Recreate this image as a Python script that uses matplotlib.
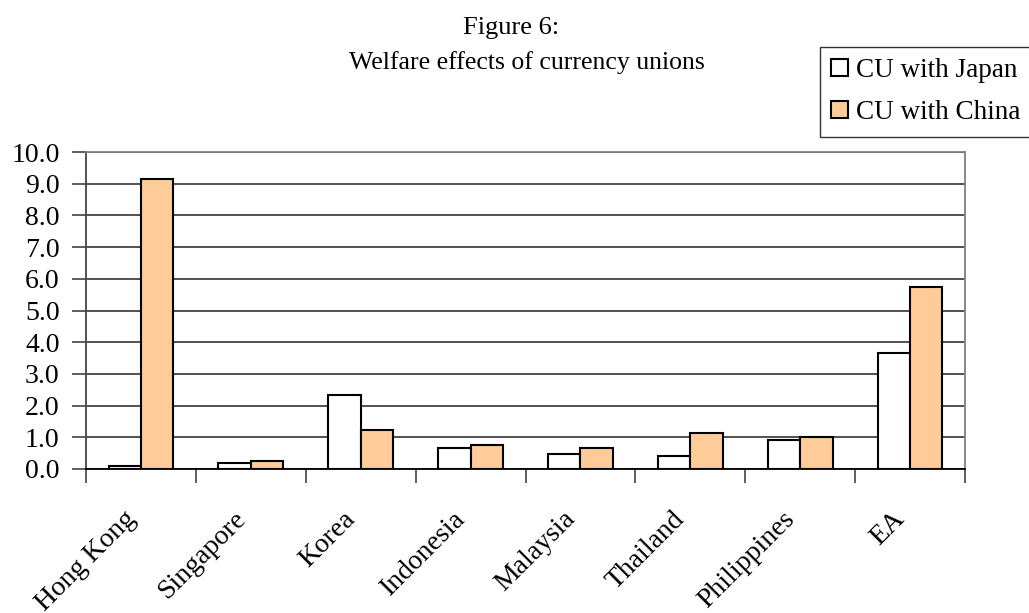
import numpy as np
import matplotlib
matplotlib.use('Agg')
import matplotlib.pyplot as plt
import matplotlib.patches as mpatches
import matplotlib.transforms as mtransforms
from matplotlib.ticker import FixedLocator

plt.rcParams['font.family'] = ['Liberation Serif', 'DejaVu Serif']

#%% data
countries = ['Hong Kong', 'Singapore', 'Korea', 'Indonesia', 'Malaysia',
             'Thailand', 'Philippines', 'EA']
cu_japan = [0.11, 0.19, 2.33, 0.66, 0.48, 0.42, 0.90, 3.65]
cu_china = [9.16, 0.24, 1.24, 0.77, 0.66, 1.13, 1.01, 5.75]
series_names = ['CU with Japan', 'CU with China']
yticks = np.arange(0, 10.01, 1.0)

#%% plot
W, H = 1029, 613
fig = plt.figure(figsize=(W/100, H/100), dpi=100)
ax = fig.add_axes([86/W, 1-469/H, (965-86)/W, (469-152)/H])

x = np.arange(len(countries))
bw = 0.295
ax.bar(x - bw/2, cu_japan, bw, color='white', ec='black', lw=1.5, zorder=3)
ax.bar(x + bw/2, cu_china, bw, color='#FFCC99', ec='black', lw=1.5, zorder=3)

ax.set_xlim(-0.5, len(countries) - 0.5)
ax.set_ylim(0, 10)
ax.set_yticks(yticks)
ax.set_yticklabels(['%.1f' % v for v in yticks], fontsize=20)
ax.yaxis.grid(True, color='#222222', lw=1.1, zorder=1)
ax.tick_params(axis='y', length=10, width=1.1, pad=9, color='#333333')

ax.set_xticks(x)
ax.set_xticklabels(countries, fontsize=20, rotation=45, ha='right',
                   rotation_mode='anchor')
ax.tick_params(axis='x', which='major', length=0, pad=27)
# shift the slanted labels a little to the left, as in the original
shift = mtransforms.ScaledTranslation(-0.18, 0, fig.dpi_scale_trans)
for lbl in ax.get_xticklabels():
    lbl.set_transform(lbl.get_transform() + shift)
ax.xaxis.set_minor_locator(FixedLocator(np.arange(-0.5, len(countries), 1.0)))
ax.tick_params(axis='x', which='minor', length=10, width=1.1, color='#333333')

for s in ['top', 'right']:
    ax.spines[s].set_color('#808080')
    ax.spines[s].set_linewidth(1.3)
ax.spines['left'].set_color('#444444')
ax.spines['left'].set_linewidth(1.3)
ax.spines['bottom'].set_color('black')
ax.spines['bottom'].set_linewidth(1.3)
ax.set_axisbelow(True)

fig.text(511/W, 1-28/H, 'Figure 6:', ha='center', va='center', fontsize=19)
fig.text(527/W, 1-63/H, 'Welfare effects of currency unions',
         ha='center', va='center', fontsize=18.5)

handles = [mpatches.Patch(fc='white', ec='black', lw=1.5),
           mpatches.Patch(fc='#FFCC99', ec='black', lw=1.5)]
leg = fig.legend(handles, series_names, loc='upper left',
                 bbox_to_anchor=(820/W, 1-47/H), borderaxespad=0,
                 fontsize=19.5, frameon=True, fancybox=False,
                 handlelength=0.6, handleheight=0.6, handletextpad=0.3,
                 labelspacing=0.62, borderpad=0.42)
leg.get_frame().set_edgecolor('black')
leg.get_frame().set_linewidth(1.0)

plt.savefig('out.png', dpi=100)
